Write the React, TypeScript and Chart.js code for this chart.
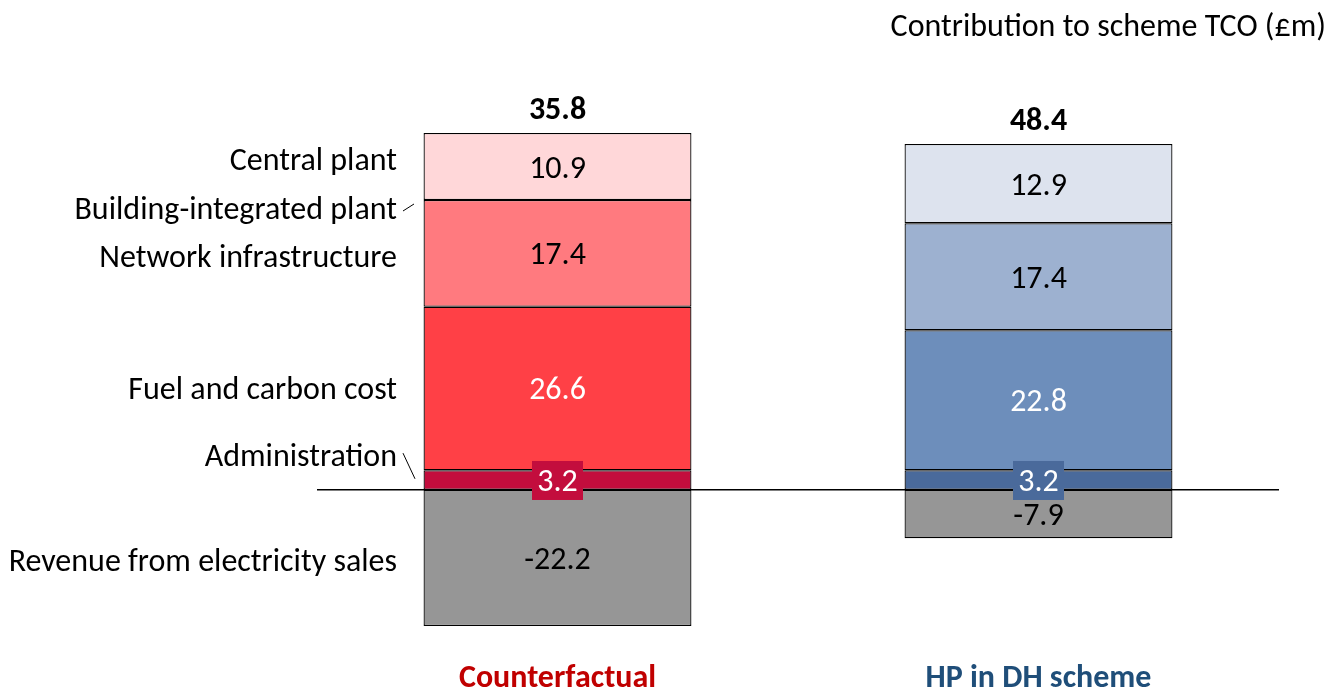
import React, { useEffect, useRef } from "react";
import { Chart, registerables } from "chart.js";

Chart.register(...registerables);

const categories = ["Counterfactual", "HP in DH scheme"];
const categoryColors = ["#C00000", "#1F4E79"];
const segmentNames = [
  "Administration",
  "Fuel and carbon cost",
  "Network infrastructure",
  "Building-integrated plant",
  "Central plant",
  "Revenue from electricity sales",
];
const administration = [3.2, 3.2];
const fuelCarbon = [26.6, 22.8];
const network = [17.4, 17.4];
const buildingPlant = [0, 0];
const centralPlant = [10.9, 12.9];
const revenue = [-22.2, -7.9];
const totals = [35.8, 48.4];
const yTitle = "Contribution to scheme TCO (£m)";

const FONT = "Calibri, Carlito, 'Open Sans', sans-serif";
const FS = 32;

export default function App() {
  const ref = useRef<HTMLCanvasElement | null>(null);

  useEffect(() => {
    document.body.style.margin = "0";
    const canvas = ref.current;
    if (!canvas) return;

    const series = [administration, fuelCarbon, network, buildingPlant, centralPlant, revenue];
    const colors = [
      ["#C30D3D", "#4A6A9B"],
      ["#FF4046", "#6D8EBB"],
      ["#FF7A7F", "#9DB1D0"],
      ["#FFB0B3", "#C5D0E3"],
      ["#FFD7D9", "#DDE3EE"],
      ["#969696", "#969696"],
    ];
    const labelColors = ["#FFFFFF", "#FFFFFF", "#000000", "#000000", "#000000", "#000000"];
    const dy = 3;

    const overlay = {
      id: "overlay",
      afterDatasetsDraw(chart: any) {
        const ctx = chart.ctx;
        const area = chart.chartArea;
        const ys = chart.scales.y;
        const y0 = ys.getPixelForValue(0);
        ctx.save();
        ctx.strokeStyle = "#000";
        ctx.lineWidth = 1.5;
        ctx.beginPath();
        ctx.moveTo(area.left, y0);
        ctx.lineTo(area.right, y0);
        ctx.stroke();

        ctx.textAlign = "center";
        ctx.textBaseline = "middle";
        ctx.font = `${FS}px ${FONT}`;
        series.forEach((vals, i) => {
          const meta = chart.getDatasetMeta(i);
          meta.data.forEach((bar: any, j: number) => {
            const v = vals[j];
            if (!v) return;
            const cy = (bar.y + bar.base) / 2;
            const txt = v.toFixed(1);
            if (i === 0) {
              const w = 51;
              ctx.fillStyle = colors[0][j];
              ctx.fillRect(bar.x - w / 2, cy - 19, w, 39);
            }
            ctx.fillStyle = labelColors[i];
            ctx.fillText(txt, bar.x, cy + dy);
          });
        });

        ctx.font = `bold ${FS}px ${FONT}`;
        ctx.fillStyle = "#000";
        const topMeta = chart.getDatasetMeta(4);
        topMeta.data.forEach((bar: any, j: number) => {
          ctx.fillText(totals[j].toFixed(1), bar.x, bar.y - 25 + dy);
        });

        categories.forEach((c, j) => {
          const bar = topMeta.data[j];
          ctx.fillStyle = categoryColors[j];
          ctx.fillText(c, bar.x, 676 + dy);
        });

        ctx.font = `${FS}px ${FONT}`;
        ctx.fillStyle = "#000";
        ctx.textAlign = "right";
        const lx = 397;
        const seg = (i: number) => {
          const b = chart.getDatasetMeta(i).data[0];
          return { top: Math.min(b.y, b.base), bottom: Math.max(b.y, b.base), mid: (b.y + b.base) / 2 };
        };
        ctx.fillText(segmentNames[4], lx, seg(4).mid - 8 + dy);
        ctx.fillText(segmentNames[3], lx, seg(3).mid + 8 + dy);
        ctx.fillText(segmentNames[2], lx, seg(2).mid + 3 + dy);
        ctx.fillText(segmentNames[1], lx, seg(1).mid + dy);
        ctx.fillText(segmentNames[0], lx, seg(0).top - 15 + dy);
        ctx.fillText(segmentNames[5], lx, seg(5).mid + 2 + dy);

        ctx.lineWidth = 1;
        ctx.beginPath();
        const bp = seg(3).mid;
        ctx.moveTo(403, bp + 11);
        ctx.lineTo(414, bp + 4);
        const ad = seg(0);
        ctx.moveTo(403, ad.top - 17);
        ctx.lineTo(415, ad.bottom - 11);
        ctx.stroke();

        ctx.textAlign = "right";
        ctx.fillText(yTitle, 1326, 25 + dy);
        ctx.restore();
      },
    };

    const chart = new Chart(canvas, {
      type: "bar",
      data: {
        labels: categories,
        datasets: series.map((vals, i) => ({
          label: segmentNames[i],
          data: vals,
          backgroundColor: colors[i],
          borderColor: "#000000",
          borderWidth: (c: any) => (c.raw === 0 ? 0 : 1.25),
          borderSkipped: false,
          barPercentage: 0.557,
          categoryPercentage: 1,
        })),
      },
      options: {
        responsive: false,
        animation: false,
        maintainAspectRatio: false,
        layout: { padding: { left: 317, right: 62, top: 60, bottom: 17 } },
        plugins: {
          legend: { display: false },
          tooltip: { enabled: false },
          title: { display: false },
        },
        scales: {
          x: { stacked: true, display: false, offset: true },
          y: { stacked: true, display: false, min: -30, max: 70 },
        },
      },
      plugins: [overlay],
    });
    return () => chart.destroy();
  }, []);

  return (
    <div style={{ width: 1341, height: 691, position: "relative", background: "#fff" }}>
      <canvas ref={ref} width={1341} height={691} style={{ display: "block" }} />
    </div>
  );
}
